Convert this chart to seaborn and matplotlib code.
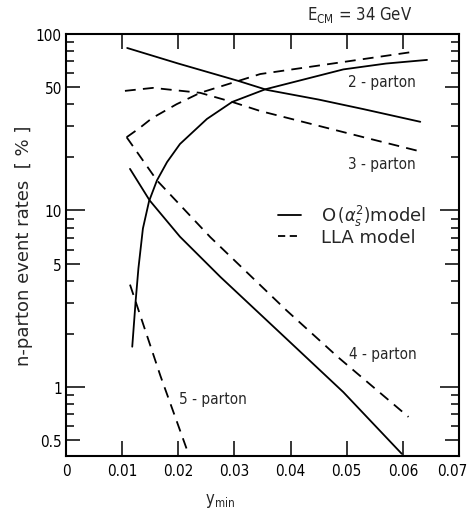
import numpy as np
import pandas as pd
import matplotlib
matplotlib.use("Agg")
import matplotlib.pyplot as plt
import seaborn as sns
from matplotlib.lines import Line2D
from matplotlib.ticker import FixedLocator, NullFormatter
from matplotlib.transforms import ScaledTranslation

# values (ymin, rate in %)
o2_x = [0.0109, 0.0200, 0.0307, 0.0358, 0.0450, 0.0530, 0.0631]
o2_y = [83.3, 68.0, 54.2, 48.2, 42.5, 37.5, 31.8]
o3_x = [0.0118, 0.0124, 0.0129, 0.0137, 0.0148, 0.0162, 0.0180, 0.0203, 0.0251,
        0.0296, 0.0355, 0.0494, 0.0570, 0.0643]
o3_y = [1.69, 3.05, 4.7, 7.9, 11.3, 14.8, 18.8, 23.8, 33.0,
        41.2, 48.6, 63.0, 68.0, 71.3]
o4_x = [0.0114, 0.0149, 0.0203, 0.0275, 0.0393, 0.0494, 0.0598]
o4_y = [17.2, 11.4, 7.1, 4.2, 1.87, 0.934, 0.418]

lla2_x = [0.0108, 0.0131, 0.0153, 0.0197, 0.0239, 0.0307, 0.0346, 0.0494, 0.0617]
lla2_y = [26.0, 29.3, 33.3, 40.0, 46.4, 54.2, 59.3, 69.4, 79.1]
lla3_x = [0.0105, 0.0155, 0.0239, 0.0296, 0.0346, 0.0530, 0.0626]
lla3_y = [47.6, 49.5, 46.4, 41.2, 36.6, 26.0, 21.8]
lla4_x = [0.0108, 0.0162, 0.0257, 0.0393, 0.0485, 0.0610]
lla4_y = [26.0, 14.8, 7.06, 2.71, 1.47, 0.676]
lla5_x = [0.0114, 0.0168, 0.0219]
lla5_y = [3.8, 1.16, 0.41]

x_ticks = [0, 0.01, 0.02, 0.03, 0.04, 0.05, 0.06, 0.07]
x_labels = ["0", "0.01", "0.02", "0.03", "0.04", "0.05", "0.06", "0.07"]
y_ticks = [0.5, 1, 5, 10, 50, 100]
y_labels = ["0.5", "1", "5", "10", "50", "100"]
y_minor = [0.6, 0.7, 0.8, 0.9, 2, 3, 4, 6, 7, 8, 9, 20, 30, 40, 60, 70, 80, 90]

parton_labels = ["2 - parton", "3 - parton", "4 - parton", "5 - parton"]
label_x = [0.0563, 0.0563, 0.0565, 0.0262]
label_y = [53.5, 18.4, 1.55, 0.86]

curves = [
    ("O", "2", o2_x, o2_y), ("O", "3", o3_x, o3_y), ("O", "4", o4_x, o4_y),
    ("LLA", "2", lla2_x, lla2_y), ("LLA", "3", lla3_x, lla3_y),
    ("LLA", "4", lla4_x, lla4_y), ("LLA", "5", lla5_x, lla5_y),
]
rows = []
for model, n, xs, ys in curves:
    for x, y in zip(xs, ys):
        rows.append({"model": model, "curve": model + n, "ymin": x, "rate": y})
df = pd.DataFrame(rows)

sns.set_theme(style="ticks")
plt.rcParams["font.family"] = ["DejaVu Sans"]
plt.rcParams["font.stretch"] = "condensed"

fig = plt.figure(figsize=(4.67, 5.10), dpi=100)
ax = fig.add_axes([0.1413, 0.1039, 0.8416, 0.8275])

sns.lineplot(data=df, x="ymin", y="rate", units="curve", style="model",
             estimator=None, sort=False, color="black", linewidth=1.3,
             dashes={"O": "", "LLA": (6, 4)}, legend=False, ax=ax)

ax.set_yscale("log")
ax.set_xlim(0, 0.07)
ax.set_ylim(0.406, 100)
ax.set_xticks(x_ticks)
ax.set_xticklabels(x_labels)
ax.set_yticks(y_ticks)
ax.set_yticklabels(y_labels)
ax.yaxis.set_minor_locator(FixedLocator(y_minor))
ax.yaxis.set_minor_formatter(NullFormatter())
ax.xaxis.set_minor_locator(FixedLocator([]))

ax.tick_params(axis="both", which="both", direction="in", top=True, right=True,
               width=1.1, colors="black", labelsize=11)
ax.tick_params(axis="x", which="major", length=10.5, pad=5)
ax.tick_params(axis="y", which="major", length=10, pad=3)
ax.tick_params(axis="y", which="minor", length=5.5)
for t, v in zip(ax.yaxis.get_major_ticks(), y_ticks):
    if v in (1, 10):
        t.tick1line.set_markersize(13.5)
        t.tick2line.set_markersize(13.5)

# last x label sits inside the figure edge
last = ax.get_xticklabels()[-1]
last.set_ha("right")
last.set_transform(last.get_transform() + ScaledTranslation(6 / 72, 0, fig.dpi_scale_trans))

for s in ax.spines.values():
    s.set_linewidth(1.5)
    s.set_color("black")

for txt, x, y in zip(parton_labels, label_x, label_y):
    ax.text(x, y, txt, ha="center", va="center", fontsize=11)

handles = [Line2D([], [], color="black", lw=1.3),
           Line2D([], [], color="black", lw=1.3, dashes=(4, 2.5))]
ax.legend(handles, [r"O$\,(\alpha_s^2)$model", "LLA model"], frameon=False,
          loc="upper left", bbox_to_anchor=(0.54, 0.599),
          prop={"size": 13, "stretch": "normal"},
          handlelength=1.25, handletextpad=1.1, labelspacing=0.0,
          borderpad=0, borderaxespad=0)

ax.text(0.748, 1.047, r"E$_{\mathrm{CM}}$ = 34 GeV", transform=ax.transAxes,
        ha="center", va="center", fontsize=12)
ax.set_ylabel("n-parton event rates  [ % ]", fontsize=13, fontstretch="normal")
ax.yaxis.set_label_coords(-0.085, 0.5)
ax.set_xlabel(r"y$_{\mathrm{min}}$", fontsize=12)
ax.xaxis.set_label_coords(0.392, -0.083)

fig.savefig("out.png", dpi=100)
